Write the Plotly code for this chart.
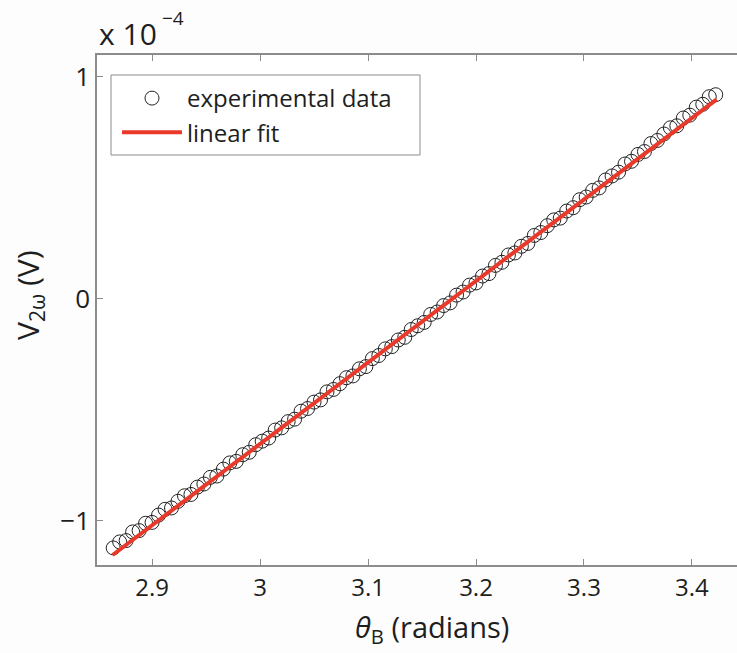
import plotly.graph_objects as go

# theta_B (radians)
theta = [2.864, 2.870, 2.876, 2.882, 2.888, 2.894, 2.900, 2.906, 2.912, 2.918,
         2.924, 2.930, 2.936, 2.942, 2.948, 2.954, 2.960, 2.966, 2.972, 2.978,
         2.984, 2.990, 2.996, 3.002, 3.008, 3.014, 3.020, 3.026, 3.032, 3.038,
         3.044, 3.050, 3.056, 3.062, 3.068, 3.074, 3.080, 3.086, 3.092, 3.098,
         3.104, 3.110, 3.116, 3.122, 3.128, 3.134, 3.140, 3.146, 3.152, 3.158,
         3.164, 3.170, 3.176, 3.182, 3.188, 3.194, 3.200, 3.206, 3.212, 3.218,
         3.224, 3.230, 3.236, 3.242, 3.248, 3.254, 3.260, 3.266, 3.272, 3.278,
         3.284, 3.290, 3.296, 3.302, 3.308, 3.314, 3.320, 3.326, 3.332, 3.338,
         3.344, 3.350, 3.356, 3.362, 3.368, 3.374, 3.380, 3.386, 3.392, 3.398,
         3.404, 3.410, 3.416, 3.422]
# V_2omega in units of 1e-4 V
v2w = [-1.123, -1.096, -1.090, -1.051, -1.045, -1.012, -1.008, -0.975, -0.949, -0.943,
       -0.913, -0.888, -0.882, -0.849, -0.835, -0.805, -0.799, -0.768, -0.740, -0.733,
       -0.703, -0.692, -0.658, -0.642, -0.628, -0.592, -0.582, -0.554, -0.543, -0.507,
       -0.495, -0.466, -0.456, -0.420, -0.409, -0.383, -0.356, -0.348, -0.316, -0.306,
       -0.270, -0.256, -0.226, -0.216, -0.186, -0.174, -0.139, -0.122, -0.107, -0.071,
       -0.060, -0.031, -0.019, 0.016, 0.030, 0.061, 0.071, 0.102, 0.113, 0.150,
       0.164, 0.197, 0.206, 0.236, 0.249, 0.285, 0.298, 0.329, 0.355, 0.363,
       0.395, 0.410, 0.446, 0.458, 0.488, 0.499, 0.535, 0.553, 0.570, 0.607,
       0.619, 0.650, 0.663, 0.699, 0.713, 0.742, 0.770, 0.779, 0.814, 0.827,
       0.863, 0.876, 0.910, 0.919]
fit_x = [2.8635, 3.4229]
fit_y = [-1.155, 0.898]

xticks = [2.9, 3.0, 3.1, 3.2, 3.3, 3.4]
xticklabels = ["2.9", "3", "3.1", "3.2", "3.3", "3.4"]
yticks = [-1, 0, 1]
yticklabels = ["\u22121", "0", "1"]

FONT = "Open Sans"
AX = "#8c8c8c"
TXT = "#1e1e1e"

W0, PW, H0, PH = 97, 640, 565, 510  # plot area pixel geometry helpers


def px(x):
    return (x - W0) / PW


def py(y):
    return (H0 - y) / PH


fig = go.Figure()
fig.add_trace(go.Scatter(
    x=theta, y=v2w, mode="markers", name="experimental data",
    legendgroup="a",
    marker=dict(symbol="circle-open", size=14, color="#222222", line=dict(width=1)),
))
fig.add_trace(go.Scatter(
    x=fit_x, y=fit_y, mode="lines", name="linear fit",
    legendgroup="b",
    line=dict(color="#e8392a", width=4),
))

fig.update_layout(
    width=737, height=653,
    margin=dict(l=97, r=0, t=55, b=88),
    paper_bgcolor="#fdfdfd", plot_bgcolor="#ffffff",
    font=dict(family=FONT, color=TXT),
    showlegend=True,
    legend=dict(
        x=px(117), y=py(76), xanchor="left", yanchor="top",
        bgcolor="rgba(0,0,0,0)", borderwidth=0,
        font=dict(size=24, family=FONT, color=TXT),
        itemwidth=60, traceorder="grouped", tracegroupgap=0,
    ),
    shapes=[
        dict(type="rect", xref="paper", yref="paper",
             x0=px(111), x1=px(420), y0=py(155), y1=py(75),
             line=dict(color="#8c8c8c", width=1), fillcolor="#ffffff", layer="above"),
    ],
    xaxis=dict(
        range=[2.849, 3.4417], tickvals=xticks, ticktext=xticklabels,
        ticks="inside", ticklen=6, tickcolor=AX, tickwidth=1,
        showline=True, linecolor=AX, linewidth=1.5, mirror="ticks",
        showgrid=False, zeroline=False,
        tickfont=dict(size=24, family=FONT, color=TXT),
    ),
    yaxis=dict(
        range=[-1.2, 1.098], tickvals=yticks, ticktext=yticklabels,
        ticks="inside", ticklen=6, tickcolor=AX, tickwidth=1,
        showline=True, linecolor=AX, linewidth=1.5, mirror=False,
        showgrid=False, zeroline=False,
        tickfont=dict(size=26, family=FONT, color=TXT),
    ),
    annotations=[
        dict(text="<i>\u03b8</i><sub>B</sub> (radians)", xref="paper", yref="paper",
             x=px(432), y=py(628), xanchor="center", yanchor="middle",
             showarrow=False, font=dict(size=29, family=FONT, color=TXT)),
        dict(text="V<sub>2\u03c9</sub> (V)", xref="paper", yref="paper",
             x=px(29), y=py(295), xanchor="center", yanchor="middle",
             textangle=-90, showarrow=False, font=dict(size=30, family=FONT, color=TXT)),
        dict(text="x 10", xref="paper", yref="paper",
             x=px(97), y=py(34), xanchor="left", yanchor="middle",
             showarrow=False, font=dict(size=30, family=FONT, color=TXT)),
        dict(text="\u22124", xref="paper", yref="paper",
             x=px(160), y=py(18), xanchor="left", yanchor="middle",
             showarrow=False, font=dict(size=19, family=FONT, color=TXT)),
    ],
)

fig.write_html("out.html")
